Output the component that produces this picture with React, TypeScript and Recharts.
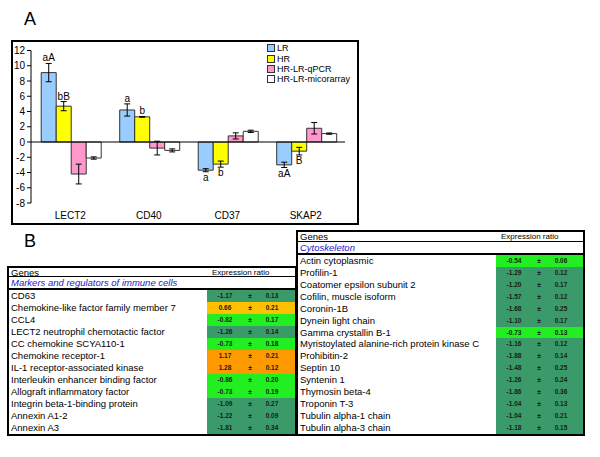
import React from 'react';
import { BarChart, Bar, XAxis, YAxis, ErrorBar, LabelList, ReferenceLine } from 'recharts';

const FONT = '"Liberation Sans", Arial, sans-serif';

// panel A
const genes = ['LECT2', 'CD40', 'CD37', 'SKAP2'];
const lr = [9.1, 4.2, -3.7, -3.0];
const lrErr = [1.2, 0.8, 0.2, 0.35];
const hr = [4.7, 3.3, -2.9, -1.2];
const hrErr = [0.6, 0.05, 0.4, 0.5];
const qpcr = [-4.2, -0.8, 0.8, 1.8];
const qpcrErr = [1.3, 0.9, 0.4, 0.75];
const micro = [-2.1, -1.1, 1.4, 1.1];
const microErr = [0.15, 0.2, 0.15, 0.08];
const lrLetters = ['aA', 'a', 'a', 'aA'];
const hrLetters = ['bB', 'b', 'b', 'B'];
const yTicks = [-8, -6, -4, -2, 0, 2, 4, 6, 8, 10, 12];

const seriesNames = ['LR', 'HR', 'HR-LR-qPCR', 'HR-LR-micorarray'];
const seriesColors = ['#99ccff', '#ffff00', '#ff99cc', '#ffffff'];

const chartData = genes.map((g, i) => ({
  name: g,
  lr: lr[i], lrErr: lrErr[i],
  hr: hr[i], hrErr: hrErr[i],
  qpcr: qpcr[i], qpcrErr: qpcrErr[i],
  micro: micro[i], microErr: microErr[i],
}));

// panel B
const DARK = '#3a9a6a';
const BRIGHT = '#22ee22';
const ORANGE = '#ff9900';
const GOLD = '#ffc000';

const immuneGenes = [
  'CD63',
  'Chemokine-like factor family member 7',
  'CCL4',
  'LECT2 neutrophil chemotactic factor',
  'CC chemokine SCYA110-1',
  'Chemokine receptor-1',
  'IL-1 receptor-associated kinase',
  'Interleukin enhancer binding factor',
  'Allograft inflammatory factor',
  'Integrin beta-1-binding protein',
  'Annexin A1-2',
  'Annexin A3',
];
const immuneRatio = ['-1.17', '0.66', '-0.82', '-1.26', '-0.73', '1.17', '1.28', '-0.86', '-0.73', '-1.09', '-1.22', '-1.81'];
const immuneErr = ['0.13', '0.21', '0.17', '0.14', '0.18', '0.21', '0.12', '0.20', '0.19', '0.27', '0.09', '0.34'];
const immuneColors = [DARK, GOLD, BRIGHT, DARK, BRIGHT, ORANGE, ORANGE, BRIGHT, BRIGHT, DARK, DARK, DARK];

const cytoGenes = [
  'Actin cytoplasmic',
  'Profilin-1',
  'Coatomer epsilon subunit 2',
  'Cofilin, muscle isoform',
  'Coronin-1B',
  'Dynein light chain',
  'Gamma crystallin B-1',
  'Myristoylated alanine-rich protein kinase C',
  'Prohibitin-2',
  'Septin 10',
  'Syntenin 1',
  'Thymosin beta-4',
  'Troponin T-3',
  'Tubulin alpha-1 chain',
  'Tubulin alpha-3 chain',
];
const cytoRatio = ['-0.54', '-1.29', '-1.20', '-1.57', '-1.68', '-1.10', '-0.73', '-1.16', '-1.88', '-1.48', '-1.26', '-1.86', '-1.04', '-1.04', '-1.18'];
const cytoErr = ['0.06', '0.12', '0.17', '0.12', '0.25', '0.17', '0.13', '0.12', '0.14', '0.25', '0.24', '0.36', '0.13', '0.21', '0.15'];
const cytoColors = [BRIGHT, DARK, DARK, DARK, DARK, DARK, BRIGHT, DARK, DARK, DARK, DARK, DARK, DARK, DARK, DARK];

// letters above / below the error bars
const letterLabel = (texts: string[], vals: number[], errs: number[]) => (props: any) => {
  const idx = props.index;
  const t = texts[idx];
  if (!t) return null;
  const vb = props.viewBox && props.viewBox.width !== undefined ? props.viewBox : props;
  const x = Number(vb.x), y = Number(vb.y), w = Number(vb.width), h = Number(vb.height);
  const v = vals[idx];
  const pxPerUnit = Math.abs(h) / Math.abs(v);
  const top = Math.min(y, y + h);
  const bottom = Math.max(y, y + h);
  const cx = x + w / 2;
  const ty = v >= 0 ? top - errs[idx] * pxPerUnit - 2 : bottom + errs[idx] * pxPerUnit + 9;
  return (
    <text x={cx} y={ty} textAnchor="middle" fontSize={10} fontFamily={FONT} fill="#000">
      {t}
    </text>
  );
};

type TableProps = {
  left: number; top: number; width: number; height: number;
  headerH: number; sectionH: number; rowH: number;
  section: string; names: string[]; ratios: string[]; errs: string[]; colors: string[];
};

const VAL_X = 198;

const GeneTable: React.FC<TableProps> = (p) => (
  <div style={{ position: 'absolute', left: p.left, top: p.top, width: p.width, height: p.height, border: '2px solid #000', boxSizing: 'border-box', background: '#fff', overflow: 'hidden' }}>
    <div style={{ position: 'relative', height: p.headerH, borderBottom: '1px solid #000', lineHeight: `${p.headerH + 1}px`, fontSize: 9.5 }}>
      <span style={{ position: 'absolute', left: 2 }}>Genes</span>
      <span style={{ position: 'absolute', left: VAL_X + 5, fontSize: 8 }}>Expression ratio</span>
    </div>
    <div style={{ height: p.sectionH, borderBottom: '2px solid #000', lineHeight: `${p.sectionH}px`, fontSize: 9.5, fontStyle: 'italic', color: '#2020c8', paddingLeft: 2 }}>
      {p.section}
    </div>
    {p.names.map((n, i) => (
      <div key={n} style={{ position: 'relative', height: p.rowH, lineHeight: `${p.rowH}px`, fontSize: 9.5 }}>
        <span style={{ position: 'absolute', left: 2, whiteSpace: 'nowrap' }}>{n}</span>
        <div style={{ position: 'absolute', left: VAL_X, right: 0, top: 0, bottom: 0, background: p.colors[i], fontSize: 6.5, fontWeight: 'bold', color: '#1a1a1a' }}>
          <span style={{ position: 'absolute', left: 18, transform: 'translateX(-50%)' }}>{p.ratios[i]}</span>
          <span style={{ position: 'absolute', left: 43, transform: 'translateX(-50%)' }}>±</span>
          <span style={{ position: 'absolute', left: 65, transform: 'translateX(-50%)' }}>{p.errs[i]}</span>
        </div>
      </div>
    ))}
  </div>
);

const App: React.FC = () => {
  return (
    <div style={{ position: 'absolute', left: 0, top: 0, width: 600, height: 457, background: '#fff', fontFamily: FONT, color: '#000' }}>
      <div style={{ position: 'absolute', left: 24, top: 10, fontSize: 18, lineHeight: '18px' }}>A</div>
      <div style={{ position: 'absolute', left: 24, top: 232, fontSize: 18, lineHeight: '18px' }}>B</div>

      <div style={{ position: 'absolute', left: 11, top: 40, width: 348, height: 185, border: '2px solid #000', boxSizing: 'border-box' }}>
        <BarChart width={344} height={181} data={chartData} margin={{ top: 8.5, right: 12, bottom: 0, left: 0 }} barCategoryGap="13%" barGap={0}>
          <YAxis width={18} domain={[-8, 12]} ticks={yTicks} interval={0} tickSize={4} axisLine={{ stroke: '#000' }} tickLine={{ stroke: '#000' }} tick={{ fontSize: 10, fill: '#000', fontFamily: FONT }} />
          <XAxis dataKey="name" height={20} axisLine={false} tickLine={false} tickSize={0} tickMargin={9} tick={{ fontSize: 10, fill: '#000', fontFamily: FONT }} />
          <ReferenceLine y={0} stroke="#000" strokeWidth={1} />
          <Bar dataKey="lr" fill={seriesColors[0]} stroke="#333" strokeWidth={1} isAnimationActive={false}>
            <ErrorBar dataKey="lrErr" width={3} stroke="#000" strokeWidth={1} />
            <LabelList dataKey="lr" content={letterLabel(lrLetters, lr, lrErr)} />
          </Bar>
          <Bar dataKey="hr" fill={seriesColors[1]} stroke="#333" strokeWidth={1} isAnimationActive={false}>
            <ErrorBar dataKey="hrErr" width={3} stroke="#000" strokeWidth={1} />
            <LabelList dataKey="hr" content={letterLabel(hrLetters, hr, hrErr)} />
          </Bar>
          <Bar dataKey="qpcr" fill={seriesColors[2]} stroke="#333" strokeWidth={1} isAnimationActive={false}>
            <ErrorBar dataKey="qpcrErr" width={3} stroke="#000" strokeWidth={1} />
          </Bar>
          <Bar dataKey="micro" fill={seriesColors[3]} stroke="#333" strokeWidth={1} isAnimationActive={false}>
            <ErrorBar dataKey="microErr" width={3} stroke="#000" strokeWidth={1} />
          </Bar>
        </BarChart>
        <div style={{ position: 'absolute', left: 254, top: 1, fontSize: 9, whiteSpace: 'nowrap', width: 90 }}>
          {seriesNames.map((s, i) => (
            <div key={s} style={{ display: 'flex', alignItems: 'center', height: 10.4 }}>
              <span style={{ width: 6, height: 6, background: seriesColors[i], border: '1px solid #333', marginRight: 2, flex: 'none' }} />
              <span>{s}</span>
            </div>
          ))}
        </div>
      </div>

      <GeneTable left={7} top={266} width={290} height={170} headerH={8} sectionH={11} rowH={12}
        section="Markers and regulators of immune cells" names={immuneGenes} ratios={immuneRatio} errs={immuneErr} colors={immuneColors} />
      <GeneTable left={296} top={230} width={289} height={206} headerH={9} sectionH={11} rowH={11.93}
        section="Cytoskeleton" names={cytoGenes} ratios={cytoRatio} errs={cytoErr} colors={cytoColors} />
    </div>
  );
};

export default App;
